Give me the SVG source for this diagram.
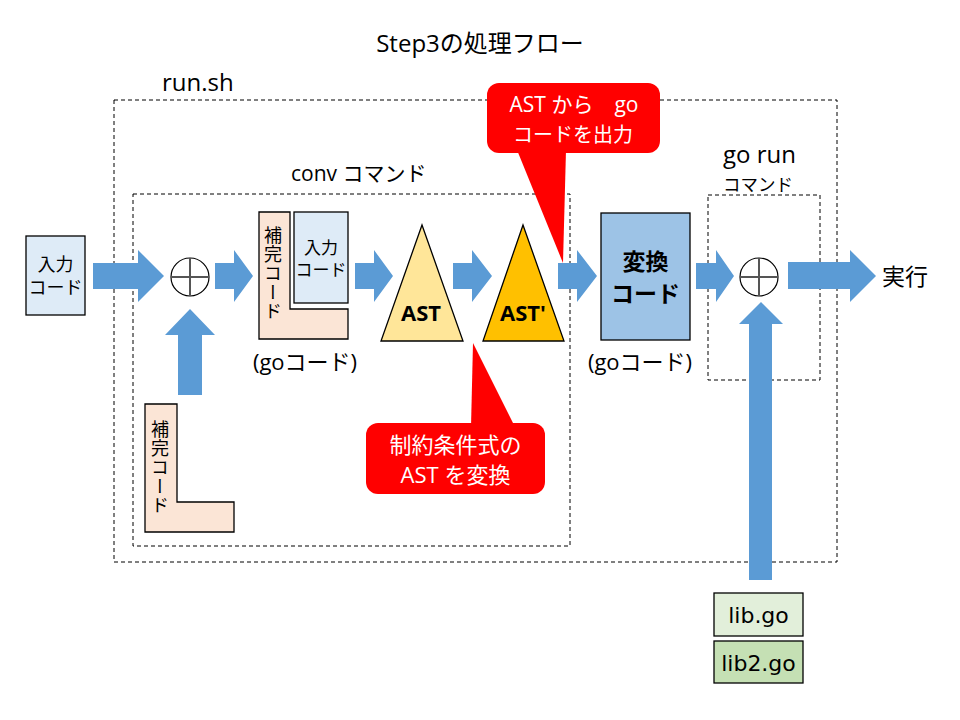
<svg xmlns="http://www.w3.org/2000/svg" width="960" height="720" viewBox="0 0 960 720">
<defs>
<style>
.t{font-family:"Open Sans","Noto Sans CJK JP",sans-serif;fill:#000}
.w{font-family:"Open Sans","Noto Sans CJK JP",sans-serif;fill:#fff}
.dash{fill:none;stroke:#000;stroke-width:1;stroke-dasharray:4 3}
.arr{fill:#5B9BD5;stroke:none}
.box{stroke:#000;stroke-width:1.3}
.vc{font-family:"Noto Sans CJK JP",sans-serif;font-size:18px;fill:#000;writing-mode:vertical-rl;letter-spacing:1px}
</style>
</defs>
<rect width="960" height="720" fill="#fff"/>
<text class="t" x="480" y="52" font-size="24" text-anchor="middle">Step3の処理フロー</text>

<g id="run-sh">
<rect class="dash" x="114" y="100" width="723" height="462"/>
<text class="t" x="162" y="91" font-size="24">run.sh</text>
</g>
<g id="conv">
<rect class="dash" x="133" y="194" width="437" height="352"/>
<text class="t" x="291" y="181" font-size="21">conv コマンド</text>
</g>
<g id="gorun">
<rect class="dash" x="708" y="195" width="112" height="185"/>
<text class="t" x="723" y="163" font-size="24">go run</text>
<text class="t" x="723" y="191" font-size="17.5">コマンド</text>
</g>

<g id="input">
<rect class="box" x="26" y="236" width="59" height="79" fill="#DEEBF7"/>
<text class="t" x="55.5" y="271" font-size="18" text-anchor="middle">入力</text>
<text class="t" x="55.5" y="294" font-size="18" text-anchor="middle">コード</text>
</g>

<g id="complement1">
<path class="box" d="M259,212 H290 V309 H348 V339 H259 Z" fill="#FBE5D6"/>
<text class="vc" x="273" y="226">補完コード</text>
</g>
<g id="input2">
<rect class="box" x="294" y="212" width="54" height="91" fill="#DEEBF7"/>
<text class="t" x="321" y="254" font-size="17" text-anchor="middle">入力</text>
<text class="t" x="321" y="276" font-size="17" text-anchor="middle">コード</text>
</g>
<text class="t" x="305" y="370" font-size="22" text-anchor="middle">(goコード)</text>

<g id="complement2">
<path class="box" d="M145,404 H177 V502 H234 V532 H145 Z" fill="#FBE5D6"/>
<text class="vc" x="160" y="420">補完コード</text>
</g>

<g id="plus1">
<circle cx="190" cy="277" r="19" fill="#fff" stroke="#000" stroke-width="1.2"/>
<path d="M171,277 H209 M190,258 V296" stroke="#555" stroke-width="2"/>
</g>

<g id="ast">
<polygon class="box" points="422,225 381,341 463,341" fill="#FFE699"/>
<text class="t" x="421" y="321" font-size="22" font-weight="bold" text-anchor="middle">AST</text>
</g>
<g id="ast2">
<polygon class="box" points="523,225 483,341 564,341" fill="#FFC000"/>
<text class="t" x="523" y="321" font-size="22" font-weight="bold" text-anchor="middle">AST'</text>
</g>

<g id="conv-code">
<rect class="box" x="601" y="213" width="89" height="127" fill="#9DC3E6"/>
<text class="t" x="645.5" y="270" font-size="23" font-weight="bold" text-anchor="middle">変換</text>
<text class="t" x="645.5" y="302" font-size="23" font-weight="bold" text-anchor="middle">コード</text>
</g>
<text class="t" x="640" y="370" font-size="22" text-anchor="middle">(goコード)</text>

<g id="plus2">
<circle cx="759" cy="277" r="19" fill="#fff" stroke="#000" stroke-width="1.2"/>
<path d="M740,277 H778 M759,258 V296" stroke="#555" stroke-width="2"/>
</g>

<text class="t" x="882" y="285" font-size="23">実行</text>

<g id="lib">
<rect class="box" x="714" y="593" width="89" height="43" fill="#E2EFDA"/>
<text x="758.5" y="623" font-size="22" text-anchor="middle" font-family="DejaVu Sans, sans-serif">lib.go</text>
</g>
<g id="lib2">
<rect class="box" x="714" y="641" width="89" height="42" fill="#C5E0B4"/>
<text x="758.5" y="671" font-size="22" text-anchor="middle" font-family="DejaVu Sans, sans-serif">lib2.go</text>
</g>

<g id="connectors">
<polygon class="arr" points="93,263 138,263 138,250 164,276 138,302 138,289 93,289"/>
<polygon class="arr" points="215,263 234,263 234,250 253,276 234,302 234,289 215,289"/>
<polygon class="arr" points="355,263 374,263 374,250 393,276 374,302 374,289 355,289"/>
<polygon class="arr" points="453,263 472,263 472,250 492,276 472,302 472,289 453,289"/>
<polygon class="arr" points="558,263 577,263 577,250 597,276 577,302 577,289 558,289"/>
<polygon class="arr" points="696,263 716,263 716,250 734,276 716,302 716,289 696,289"/>
<polygon class="arr" points="788,262 850,262 850,250 876,276 850,302 850,289 788,289"/>
<polygon class="arr" points="190,309 215,335 202,335 202,395 178,395 178,335 165,335"/>
<polygon class="arr" points="761,302 783,324 772,324 772,580 749,580 749,324 739,324"/>
</g>

<g id="callout1">
<polygon points="517,150 566,150 563,263" fill="#FF0000"/>
<rect x="487" y="83" width="173" height="70" rx="12" fill="#FF0000"/>
<text class="w" x="574" y="112" font-size="21" text-anchor="middle" xml:space="preserve">AST から　go</text>
<text class="w" x="573" y="142" font-size="20" text-anchor="middle">コードを出力</text>
</g>
<g id="callout2">
<polygon points="471,427 473,343 515,427" fill="#FF0000"/>
<rect x="366" y="423" width="179" height="71" rx="12" fill="#FF0000"/>
<text class="w" x="455.5" y="453" font-size="22" text-anchor="middle">制約条件式の</text>
<text class="w" x="455.5" y="483" font-size="22" text-anchor="middle">AST を変換</text>
</g>
</svg>
